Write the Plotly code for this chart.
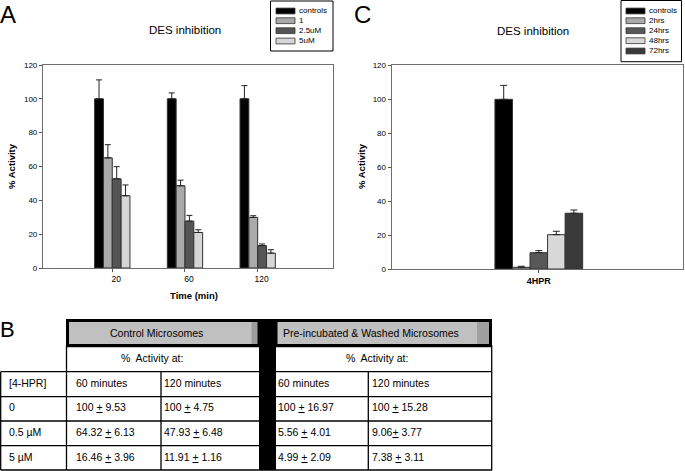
import plotly.graph_objects as go

W, H = 685, 471
FONT = "Liberation Sans, Arial, sans-serif"

# ---------------- data ----------------
# Panel A
time_labels = ["20", "60", "120"]
a_names = ["controls", "1", "2.5uM", "5uM"]
a_controls = [100, 100, 100]
a_controls_err = [11.2, 3.5, 7.8]
a_1uM = [65.1, 48.6, 29.9]
a_1uM_err = [7.8, 3.3, 1.0]
a_2p5uM = [52.7, 27.7, 13.2]
a_2p5uM_err = [7.2, 3.4, 1.0]
a_5uM = [42.7, 21.0, 8.8]
a_5uM_err = [6.4, 1.6, 2.0]

# Panel C
c_category = ["4HPR"]
c_names = ["controls", "2hrs", "24hrs", "48hrs", "72hrs"]
c_means = [99.8, 1.0, 9.6, 20.2, 32.8]
c_errs = [8.2, 0.6, 1.2, 2.0, 1.9]

# Panel B table
table_conc = ["0", "0.5 µM", "5 µM"]
ctrl_60 = ["100 + 9.53", "64.32 + 6.13", "16.46 + 3.96"]
ctrl_120 = ["100 + 4.75", "47.93 + 6.48", "11.91 + 1.16"]
pre_60 = ["100 + 16.97", "5.56 + 4.01", "4.99 + 2.09"]
pre_120 = ["100 + 15.28", "9.06+ 3.77", "7.38 + 3.11"]
table_group_titles = ["Control Microsomes", "Pre-incubated & Washed Microsomes"]
table_sub_title = "%  Activity at:"
table_col_titles = ["[4-HPR]", "60 minutes", "120 minutes", "60 minutes", "120 minutes"]

# ---------------- styles ----------------
a_colors = ["#000000", "#aaaaaa", "#555555", "#d6d6d6"]
c_colors = ["#000000", "#aaaaaa", "#585858", "#d8d8d8", "#3a3a3a"]


def px(x):
    return x / W


def py(y):
    return 1 - y / H


fig = go.Figure()

a_vals = [a_controls, a_1uM, a_2p5uM, a_5uM]
a_errs = [a_controls_err, a_1uM_err, a_2p5uM_err, a_5uM_err]
for name, vals, errs, col in zip(a_names, a_vals, a_errs, a_colors):
    fig.add_trace(go.Bar(
        x=time_labels, y=vals, name=name, xaxis="x", yaxis="y", showlegend=False,
        marker=dict(color=col, line=dict(color="#333333", width=1)),
        error_y=dict(type="data", array=errs, arrayminus=[0] * len(errs), symmetric=False,
                     color="#222222", thickness=1, width=3),
    ))

for i, (name, col) in enumerate(zip(c_names, c_colors)):
    fig.add_trace(go.Bar(
        x=c_category, y=[c_means[i]], name=name, xaxis="x2", yaxis="y2", showlegend=False,
        marker=dict(color=col, line=dict(color="#333333", width=1)),
        error_y=dict(type="data", array=[c_errs[i]], arrayminus=[0], symmetric=False,
                     color="#222222", thickness=1, width=3.5),
    ))

axis_common = dict(showline=True, mirror=True, linecolor="#6e6e6e", linewidth=1.2,
                   showgrid=False, zeroline=False, ticks="outside", ticklen=3,
                   tickcolor="#555555", tickwidth=1, automargin=False)

fig.update_layout(
    width=W, height=H, margin=dict(l=0, r=0, t=0, b=0),
    paper_bgcolor="white", plot_bgcolor="white",
    font=dict(family=FONT, color="black"),
    barmode="group", bargap=0.514, bargroupgap=0,
    xaxis=dict(domain=[px(43), px(333)], anchor="y", type="category",
               range=[-0.953, 3.036], tickfont=dict(size=8.5), ticklabelshift=4, **axis_common),
    yaxis=dict(domain=[py(268), py(65)], anchor="x", range=[0, 120], dtick=20,
               tickfont=dict(size=8), **axis_common),
    xaxis2=dict(domain=[px(391.7), px(683)], anchor="y2", type="category",
                range=[-0.815, 0.799], tickfont=dict(size=9, weight="bold"), **axis_common),
    yaxis2=dict(domain=[py(269), py(65)], anchor="x2", range=[0, 120], dtick=20,
                tickfont=dict(size=8), **axis_common),
)

ann = []
shapes = []


def text(x, y, s, size, xanchor="center", bold=False, angle=0, yanchor="middle"):
    ann.append(dict(x=px(x), y=py(y), xref="paper", yref="paper", text=s, showarrow=False,
                    xanchor=xanchor, yanchor=yanchor, textangle=angle, borderpad=0,
                    font=dict(size=size, family=FONT, color="black",
                              weight="bold" if bold else "normal")))


# panel letters
text(-1, 0, "A", 24, xanchor="left", yanchor="top")
text(353, 0, "C", 24, xanchor="left", yanchor="top")
text(-1, 329, "B", 22, xanchor="left")
# titles
text(185, 30.5, "DES inhibition", 11.5)
text(533, 31, "DES inhibition", 11.5)
# axis titles
text(12, 166, "% Activity", 9.5, bold=True, angle=-90)
text(362, 166, "% Activity", 9.5, bold=True, angle=-90)
text(194, 295, "Time (min)", 9.5, bold=True)


def rect(x0, y0, x1, y1, fill=None, line=None, lw=1):
    shapes.append(dict(type="rect", xref="paper", yref="paper",
                       x0=px(x0), x1=px(x1), y0=py(y0), y1=py(y1),
                       fillcolor=fill if fill else "rgba(0,0,0,0)",
                       line=dict(color=line if line else "rgba(0,0,0,0)", width=lw if line else 0)))


def hline(x0, x1, y, lw=1.3):
    shapes.append(dict(type="line", xref="paper", yref="paper", x0=px(x0), x1=px(x1),
                       y0=py(y), y1=py(y), line=dict(color="black", width=lw)))


def vline(x, y0, y1, lw=1.3):
    shapes.append(dict(type="line", xref="paper", yref="paper", x0=px(x), x1=px(x),
                       y0=py(y0), y1=py(y1), line=dict(color="black", width=lw)))


# manual legends
rect(270.5, 1, 333, 51, fill="white", line="black", lw=1)
a_rows = [11, 20.7, 30.7, 41]
for name, col, yy in zip(a_names, a_colors, a_rows):
    rect(276, yy - 2.9, 295, yy + 2.9, fill=col, line="#333333", lw=0.8)
    text(298, yy, name, 8, xanchor="left")

rect(621, 0.5, 681.5, 61.7, fill="white", line="black", lw=1)
c_rows = [11, 20.7, 30.7, 40.7, 51]
for name, col, yy in zip(c_names, c_colors, c_rows):
    rect(626, yy - 2.9, 645, yy + 2.9, fill=col, line="#333333", lw=0.8)
    text(647.5, yy, name, 8, xanchor="left")

# ---------------- table (panel B) ----------------
rect(67, 320, 258.5, 345.5, fill="#c0c0c0")
rect(251.5, 320, 258.5, 345.5, fill="#9c9c9c")
rect(276, 320, 490.5, 345.5, fill="#c0c0c0")
rect(477, 320, 489.5, 345.5, fill="#a0a0a0")
rect(259, 319, 276, 470.7, fill="black")
rect(67.5, 320.5, 259, 345.5, line="black", lw=3)
rect(276, 320.5, 490.5, 345.5, line="black", lw=3)
row_lines = [371.7, 396.7, 421, 445.7, 470]
for yy in row_lines:
    hline(0.7, 259, yy)
    hline(276, 491.7, yy)
hline(66.5, 259, 346.5)
hline(276, 491.7, 346.5)
vline(0.7, 371.7, 470)
vline(66.5, 345, 470)
vline(161, 371.7, 470)
vline(368.3, 371.7, 470)
vline(491.7, 345, 470.6)

tsize = 10.5
text(156, 332.5, table_group_titles[0], tsize)
text(371, 332.5, table_group_titles[1], tsize)
text(152, 358, table_sub_title, tsize)
text(377, 358, table_sub_title, tsize)

col_x = [8, 75, 163, 277, 371]
for cx, s in zip(col_x, table_col_titles):
    text(cx, 382.5, s, tsize, xanchor="left")

row_y = [407, 431.5, 456.5]


def pm(s):
    return s.replace("+", "<u>+</u>")


for i, yy in enumerate(row_y):
    text(col_x[0], yy, table_conc[i], tsize, xanchor="left")
    text(col_x[1], yy, pm(ctrl_60[i]), tsize, xanchor="left")
    text(col_x[2], yy, pm(ctrl_120[i]), tsize, xanchor="left")
    text(col_x[3], yy, pm(pre_60[i]), tsize, xanchor="left")
    text(col_x[4], yy, pm(pre_120[i]), tsize, xanchor="left")

fig.update_layout(annotations=ann, shapes=shapes)
fig.write_html("out.html", config={"displayModeBar": False},
               post_script="document.body.style.margin='0px';document.body.style.overflow='hidden';")
